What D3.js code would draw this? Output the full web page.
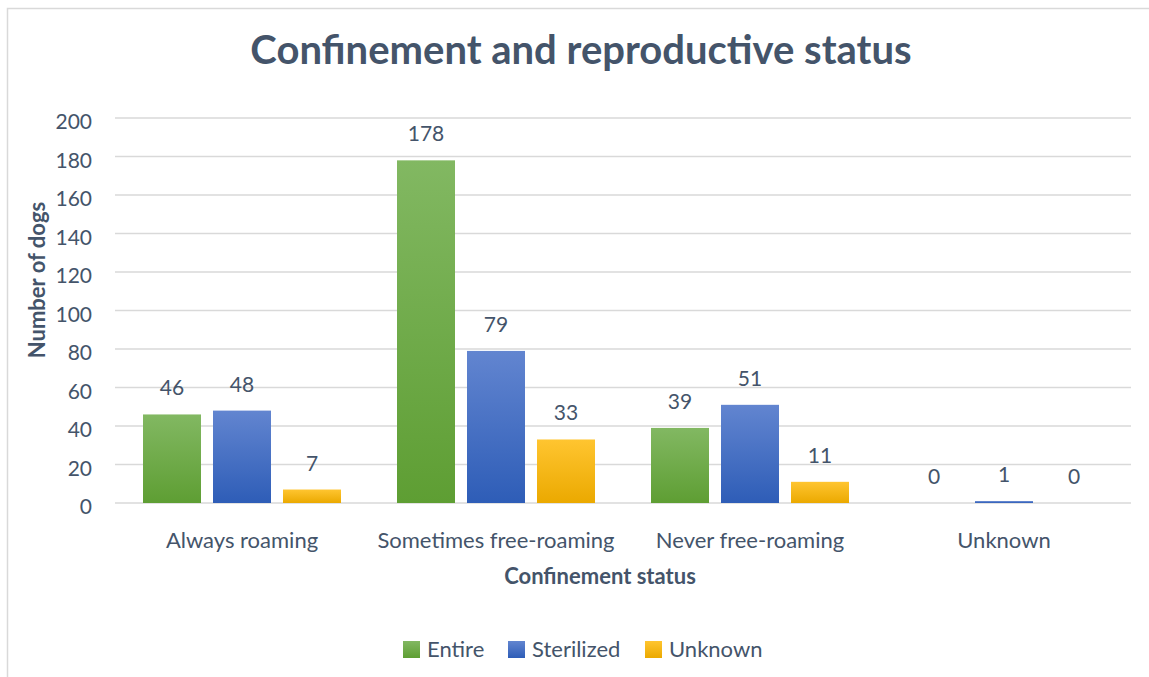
<!DOCTYPE html>
<html>
<head>
<meta charset="utf-8">
<script src="https://cdn.jsdelivr.net/npm/d3@7"></script>
<style>
  body { margin: 0; background: #fff; }
  text { font-family: Lato, "Open Sans", sans-serif; fill: #44546A; }
</style>
</head>
<body>
<script>
var categories = ["Always roaming", "Sometimes free-roaming", "Never free-roaming", "Unknown"]
var series = ["Entire", "Sterilized", "Unknown"]
var entire = [46, 178, 39, 0]
var sterilized = [48, 79, 51, 1]
var unknown = [7, 33, 11, 0]
var yTicks = [0, 20, 40, 60, 80, 100, 120, 140, 160, 180, 200]

var values = [entire, sterilized, unknown]
var colors = [
  ["#82B862", "#5E9E33"],
  ["#6285D0", "#2E5DB7"],
  ["#FFC530", "#EBA900"]
]

var width = 1149, height = 677
var plotLeft = 115, plotRight = 1131, plotTop = 118, plotBottom = 503

var svg = d3.select("body").append("svg")
    .attr("width", width)
    .attr("height", height)

// frame
svg.append("rect")
    .attr("x", 7.5).attr("y", 8.5)
    .attr("width", 1160).attr("height", 700)
    .attr("fill", "none")
    .attr("stroke", "#D9D9D9")
    .attr("stroke-width", 1.5)

var defs = svg.append("defs")
colors.forEach(function(c, i) {
  var g = defs.append("linearGradient")
      .attr("id", "grad" + i)
      .attr("x1", 0).attr("y1", 0).attr("x2", 0).attr("y2", 1)
  g.append("stop").attr("offset", "0%").attr("stop-color", c[0])
  g.append("stop").attr("offset", "100%").attr("stop-color", c[1])
})

var y = d3.scaleLinear().domain([0, 200]).range([plotBottom, plotTop])
var x0 = d3.scaleBand().domain(categories).range([plotLeft, plotRight])
var x1 = d3.scaleBand().domain(series).range([0, x0.bandwidth()])
    .paddingInner(0.1714).paddingOuter(0.4)

// gridlines
svg.append("g")
    .selectAll("line")
    .data(yTicks)
    .enter()
    .append("line")
    .attr("x1", plotLeft).attr("x2", plotRight)
    .attr("y1", function(d) { return y(d) })
    .attr("y2", function(d) { return y(d) })
    .attr("stroke", "#D9D9D9")
    .attr("stroke-width", 1.5)

// y tick labels
svg.append("g")
    .selectAll("text")
    .data(yTicks)
    .enter()
    .append("text")
    .attr("x", 92)
    .attr("y", function(d) { return y(d) + 11 })
    .attr("text-anchor", "end")
    .style("font-size", "21px")
    .text(function(d) { return d })

// bars
var groups = svg.append("g")
    .selectAll("g")
    .data(categories)
    .enter()
    .append("g")
    .attr("transform", function(d) { return "translate(" + x0(d) + ",0)" })

function cells(d, ci) {
  return series.map(function(s, si) { return {s: s, si: si, v: values[si][ci]} })
}

groups.selectAll("rect")
    .data(cells)
    .enter()
    .append("rect")
    .attr("x", function(d) { return x1(d.s) })
    .attr("y", function(d) { return y(d.v) })
    .attr("width", x1.bandwidth())
    .attr("height", function(d) { return y(0) - y(d.v) })
    .attr("fill", function(d) { return "url(#grad" + d.si + ")" })

groups.selectAll("text")
    .data(cells)
    .enter()
    .append("text")
    .attr("x", function(d) { return x1(d.s) + x1.bandwidth() / 2 })
    .attr("y", function(d) { return y(d.v) - 19 })
    .attr("text-anchor", "middle")
    .style("font-size", "21px")
    .text(function(d) { return d.v })

// category labels
svg.append("g")
    .selectAll("text")
    .data(categories)
    .enter()
    .append("text")
    .attr("x", function(d) { return x0(d) + x0.bandwidth() / 2 })
    .attr("y", 548)
    .attr("text-anchor", "middle")
    .style("font-size", "22px")
    .text(function(d) { return d })

// titles
svg.append("text")
    .attr("x", 581).attr("y", 64)
    .attr("text-anchor", "middle")
    .style("font-size", "40px")
    .style("font-weight", "bold")
    .text("Confinement and reproductive status")

svg.append("text")
    .attr("x", 600).attr("y", 584)
    .attr("text-anchor", "middle")
    .style("font-size", "22px")
    .style("font-weight", "bold")
    .text("Confinement status")

svg.append("text")
    .attr("transform", "translate(45,280) rotate(-90)")
    .attr("text-anchor", "middle")
    .style("font-size", "22px")
    .style("font-weight", "bold")
    .text("Number of dogs")

// legend
var legendX = [403, 508, 645]
var legend = svg.append("g")
    .selectAll("g")
    .data(series)
    .enter()
    .append("g")
    .attr("transform", function(d, i) { return "translate(" + legendX[i] + ",641)" })

legend.append("rect")
    .attr("width", 17).attr("height", 17)
    .attr("fill", function(d, i) { return "url(#grad" + i + ")" })

legend.append("text")
    .attr("x", 24).attr("y", 16)
    .style("font-size", "22px")
    .text(function(d) { return d })
</script>
</body>
</html>
